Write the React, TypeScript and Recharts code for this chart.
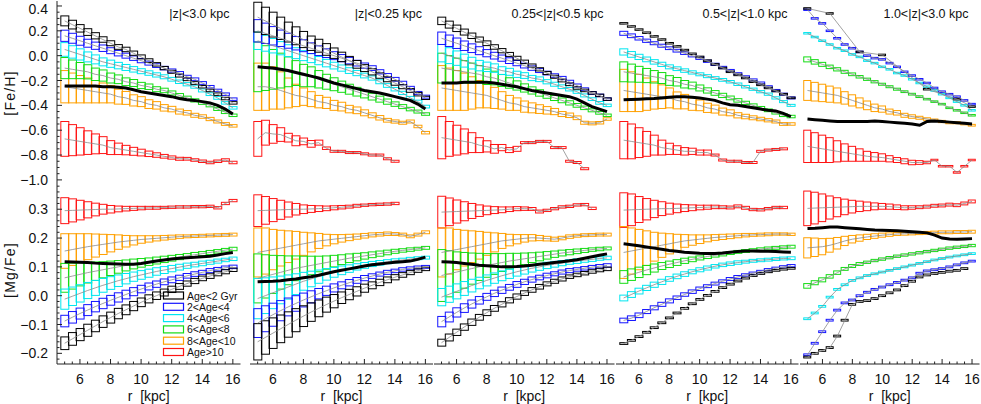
import React from 'react';
import { ComposedChart, Bar, Line, XAxis, YAxis } from 'recharts';

// radial bins, kpc
const R = [5, 5.5, 6, 6.5, 7, 7.5, 8, 8.5, 9, 9.5, 10, 10.5, 11, 11.5, 12, 12.5, 13, 13.5, 14, 14.5, 15, 15.5, 16];

const AGE_LABELS = ['Age<2 Gyr', '2<Age<4', '4<Age<6', '6<Age<8', '8<Age<10', 'Age>10'];
const AGE_COLORS = ['#000000', '#1414ff', '#00e6f0', '#14dc14', '#ffa000', '#ff1414'];
const Z_LABELS = ['|z|<3.0 kpc', '|z|<0.25 kpc', '0.25<|z|<0.5 kpc', '0.5<|z|<1.0 kpc', '1.0<|z|<3.0 kpc'];

const X_DOMAIN = [4.5, 16.5];
const X_MAJOR = [6, 8, 10, 12, 14, 16];
const FE_DOMAIN = [-1.025, 0.44];
const FE_MAJOR = [0.4, 0.2, 0, -0.2, -0.4, -0.6, -0.8, -1.0];
const MG_DOMAIN = [-0.237, 0.391];
const MG_MAJOR = [0.3, 0.2, 0.1, 0, -0.1, -0.2];

const frange = (a: number, b: number, s: number) => {
  const out: number[] = [];
  for (let v = a; v <= b + 1e-9; v += s) out.push(Math.round(v * 1000) / 1000);
  return out;
};
const X_MINOR = frange(5, 16, 0.5);
const FE_MINOR = frange(-1.0, 0.4, 0.05);
const MG_MINOR = frange(-0.22, 0.38, 0.02);

const ERR_FE_DASH = [0.006, 0.006, 0.006, 0.006, 0.006, 0.006, 0.006, 0.006, 0.006, 0.006, 0.006, 0.006, 0.006, 0.006, 0.006, 0.006, 0.006, 0.006, 0.006, 0.006, 0.006, 0.006, 0.006];
const ERR_MG_DASH = [0.003, 0.003, 0.003, 0.003, 0.003, 0.003, 0.003, 0.003, 0.003, 0.003, 0.003, 0.003, 0.003, 0.003, 0.003, 0.003, 0.003, 0.003, 0.003, 0.003, 0.003, 0.003, 0.003];

// ---- [Fe/H], |z|<3.0 ---- rows: black, blue, cyan, green, orange, red
const FE_A_MEAN = [
  [0.28, 0.25, 0.22, 0.19, 0.16, 0.13, 0.10, 0.07, 0.05, 0.02, -0.01, -0.04, -0.07, -0.10, -0.13, -0.16, -0.19, -0.22, -0.25, -0.28, -0.31, -0.345, -0.38],
  [0.16, 0.14, 0.12, 0.10, 0.08, 0.06, 0.04, 0.02, 0.00, -0.02, -0.04, -0.06, -0.08, -0.10, -0.12, -0.14, -0.17, -0.19, -0.22, -0.25, -0.28, -0.31, -0.35],
  [0.05, 0.03, 0.01, -0.01, -0.03, -0.05, -0.065, -0.08, -0.095, -0.11, -0.125, -0.14, -0.155, -0.17, -0.19, -0.21, -0.23, -0.25, -0.28, -0.31, -0.34, -0.38, -0.42],
  [-0.10, -0.11, -0.12, -0.13, -0.15, -0.16, -0.18, -0.19, -0.21, -0.22, -0.24, -0.25, -0.27, -0.28, -0.30, -0.32, -0.34, -0.36, -0.38, -0.40, -0.43, -0.455, -0.48],
  [-0.25, -0.26, -0.27, -0.28, -0.29, -0.30, -0.31, -0.33, -0.34, -0.36, -0.37, -0.39, -0.40, -0.42, -0.43, -0.45, -0.46, -0.48, -0.49, -0.51, -0.53, -0.55, -0.565],
  [-0.67, -0.68, -0.69, -0.70, -0.71, -0.72, -0.74, -0.75, -0.76, -0.77, -0.78, -0.79, -0.80, -0.81, -0.82, -0.83, -0.83, -0.84, -0.85, -0.86, -0.85, -0.84, -0.86],
];
const FE_A_ERR = [
  [0.04, 0.035, 0.03, 0.027, 0.025, 0.022, 0.02, 0.019, 0.018, 0.017, 0.016, 0.015, 0.014, 0.013, 0.012, 0.012, 0.011, 0.011, 0.01, 0.01, 0.01, 0.01, 0.01],
  [0.045, 0.04, 0.036, 0.032, 0.029, 0.026, 0.024, 0.022, 0.02, 0.018, 0.017, 0.016, 0.015, 0.014, 0.013, 0.012, 0.012, 0.011, 0.011, 0.01, 0.01, 0.01, 0.01],
  [0.055, 0.05, 0.045, 0.04, 0.036, 0.032, 0.029, 0.026, 0.024, 0.022, 0.02, 0.018, 0.017, 0.016, 0.015, 0.014, 0.013, 0.012, 0.012, 0.011, 0.011, 0.01, 0.01],
  [0.085, 0.075, 0.065, 0.057, 0.05, 0.045, 0.04, 0.035, 0.031, 0.028, 0.025, 0.022, 0.02, 0.018, 0.016, 0.015, 0.014, 0.013, 0.012, 0.012, 0.011, 0.011, 0.01],
  [0.13, 0.12, 0.11, 0.10, 0.09, 0.08, 0.07, 0.06, 0.052, 0.045, 0.04, 0.035, 0.03, 0.026, 0.022, 0.02, 0.018, 0.016, 0.014, 0.013, 0.012, 0.011, 0.01],
  [0.14, 0.125, 0.11, 0.095, 0.08, 0.068, 0.056, 0.046, 0.038, 0.032, 0.027, 0.022, 0.018, 0.015, 0.013, 0.012, 0.011, 0.01, 0.01, 0.01, 0.01, 0.01, 0.01],
];
const FE_A_ALL = [-0.245, -0.245, -0.245, -0.245, -0.245, -0.25, -0.25, -0.255, -0.26, -0.275, -0.29, -0.30, -0.31, -0.32, -0.33, -0.345, -0.355, -0.36, -0.37, -0.38, -0.40, -0.43, -0.47];

// ---- [Fe/H], |z|<0.25 ----
const FE_B_MEAN = [
  [0.31, 0.28, 0.25, 0.22, 0.19, 0.16, 0.13, 0.10, 0.08, 0.05, 0.02, -0.01, -0.04, -0.07, -0.10, -0.13, -0.16, -0.19, -0.22, -0.25, -0.28, -0.31, -0.34],
  [0.20, 0.18, 0.16, 0.14, 0.12, 0.10, 0.08, 0.06, 0.04, 0.02, 0.00, -0.02, -0.04, -0.06, -0.08, -0.10, -0.13, -0.16, -0.19, -0.22, -0.26, -0.30, -0.33],
  [0.12, 0.10, 0.08, 0.06, 0.04, 0.02, 0.00, -0.02, -0.04, -0.06, -0.08, -0.10, -0.12, -0.14, -0.16, -0.18, -0.21, -0.24, -0.27, -0.30, -0.34, -0.37, -0.41],
  [-0.09, -0.10, -0.11, -0.12, -0.13, -0.14, -0.16, -0.17, -0.19, -0.21, -0.23, -0.25, -0.27, -0.29, -0.31, -0.33, -0.35, -0.37, -0.39, -0.41, -0.43, -0.45, -0.47],
  [-0.25, -0.25, -0.26, -0.28, -0.30, -0.32, -0.33, -0.35, -0.37, -0.38, -0.40, -0.41, -0.43, -0.44, -0.46, -0.48, -0.50, -0.52, -0.53, -0.54, -0.53, -0.57, -0.62],
  [-0.67, -0.62, -0.63, -0.635, -0.66, -0.685, -0.69, -0.71, -0.70, -0.745, -0.77, -0.77, -0.78, -0.78, -0.79, -0.80, -0.80, -0.83, -0.85, null, null, null, null],
];
const FE_B_ERR = [
  [0.12, 0.11, 0.10, 0.09, 0.08, 0.072, 0.065, 0.058, 0.052, 0.047, 0.042, 0.038, 0.034, 0.031, 0.028, 0.025, 0.022, 0.02, 0.018, 0.016, 0.015, 0.014, 0.013],
  [0.09, 0.082, 0.074, 0.066, 0.06, 0.054, 0.048, 0.043, 0.039, 0.035, 0.032, 0.029, 0.026, 0.023, 0.021, 0.019, 0.017, 0.016, 0.015, 0.014, 0.013, 0.012, 0.012],
  [0.07, 0.064, 0.058, 0.053, 0.048, 0.044, 0.04, 0.036, 0.033, 0.03, 0.027, 0.025, 0.023, 0.021, 0.019, 0.017, 0.016, 0.015, 0.014, 0.013, 0.012, 0.012, 0.011],
  [0.2, 0.18, 0.16, 0.14, 0.12, 0.10, 0.09, 0.08, 0.07, 0.06, 0.052, 0.045, 0.04, 0.035, 0.03, 0.027, 0.024, 0.021, 0.018, 0.016, 0.014, 0.012, 0.01],
  [0.19, 0.19, 0.17, 0.15, 0.12, 0.09, 0.07, 0.06, 0.05, 0.045, 0.04, 0.035, 0.03, 0.027, 0.024, 0.02, 0.018, 0.015, 0.013, 0.012, 0.012, 0.01, 0.01],
  [0.14, 0.10, 0.075, 0.055, 0.035, 0.04, 0.027, 0.027, 0.02, 0.01, 0.008, 0.008, 0.008, 0.008, 0.008, 0.008, 0.008, 0.008, 0.008, 0.008, 0.008, 0.008, 0.008],
];
const FE_B_ALL = [-0.09, -0.095, -0.10, -0.11, -0.12, -0.135, -0.15, -0.165, -0.18, -0.20, -0.22, -0.235, -0.25, -0.265, -0.28, -0.29, -0.30, -0.315, -0.33, -0.345, -0.36, -0.39, -0.43];

// ---- [Fe/H], 0.25<|z|<0.5 ----
const FE_C_MEAN = [
  [0.28, 0.25, 0.22, 0.19, 0.16, 0.13, 0.10, 0.07, 0.04, 0.01, -0.02, -0.05, -0.08, -0.11, -0.14, -0.17, -0.20, -0.23, -0.26, -0.28, -0.30, -0.32, -0.35],
  [0.14, 0.12, 0.10, 0.08, 0.06, 0.04, 0.02, 0.00, -0.02, -0.04, -0.06, -0.08, -0.10, -0.12, -0.14, -0.16, -0.18, -0.21, -0.24, -0.27, -0.30, -0.32, -0.35],
  [0.02, 0.00, -0.02, -0.04, -0.06, -0.08, -0.09, -0.10, -0.12, -0.13, -0.15, -0.16, -0.18, -0.19, -0.21, -0.23, -0.25, -0.27, -0.29, -0.32, -0.35, -0.38, -0.40],
  [-0.10, -0.11, -0.12, -0.13, -0.14, -0.15, -0.17, -0.18, -0.20, -0.22, -0.24, -0.26, -0.28, -0.30, -0.32, -0.34, -0.36, -0.38, -0.40, -0.42, -0.44, -0.46, -0.48],
  [-0.26, -0.27, -0.28, -0.29, -0.30, -0.31, -0.32, -0.34, -0.36, -0.38, -0.39, -0.41, -0.42, -0.43, -0.44, -0.45, -0.47, -0.48, -0.50, -0.54, -0.545, -0.54, -0.51],
  [-0.66, -0.67, -0.68, -0.69, -0.70, -0.72, -0.73, -0.75, -0.74, -0.76, -0.75, -0.70, -0.70, -0.69, -0.69, -0.74, -0.74, -0.85, -0.86, -0.91, null, null, null],
];
const FE_C_ERR = [
  [0.03, 0.028, 0.026, 0.024, 0.022, 0.02, 0.019, 0.018, 0.017, 0.016, 0.015, 0.014, 0.013, 0.013, 0.012, 0.012, 0.011, 0.011, 0.01, 0.01, 0.01, 0.01, 0.01],
  [0.05, 0.046, 0.042, 0.038, 0.035, 0.032, 0.029, 0.027, 0.025, 0.023, 0.021, 0.019, 0.018, 0.016, 0.015, 0.014, 0.013, 0.012, 0.012, 0.011, 0.011, 0.01, 0.01],
  [0.07, 0.064, 0.058, 0.052, 0.047, 0.042, 0.038, 0.034, 0.031, 0.028, 0.025, 0.023, 0.021, 0.019, 0.017, 0.016, 0.015, 0.014, 0.013, 0.012, 0.011, 0.011, 0.01],
  [0.12, 0.11, 0.10, 0.09, 0.08, 0.07, 0.062, 0.055, 0.048, 0.042, 0.037, 0.033, 0.029, 0.026, 0.023, 0.021, 0.019, 0.017, 0.015, 0.014, 0.012, 0.011, 0.01],
  [0.18, 0.17, 0.16, 0.15, 0.13, 0.11, 0.10, 0.085, 0.07, 0.06, 0.05, 0.045, 0.04, 0.035, 0.03, 0.025, 0.02, 0.018, 0.015, 0.012, 0.012, 0.01, 0.01],
  [0.17, 0.14, 0.12, 0.10, 0.08, 0.06, 0.045, 0.035, 0.025, 0.02, 0.02, 0.008, 0.008, 0.008, 0.008, 0.008, 0.008, 0.008, 0.008, 0.008, 0.008, 0.008, 0.008],
];
const FE_C_ALL = [-0.22, -0.22, -0.22, -0.215, -0.215, -0.215, -0.215, -0.22, -0.23, -0.24, -0.25, -0.265, -0.28, -0.29, -0.30, -0.31, -0.32, -0.33, -0.35, -0.38, -0.41, -0.43, -0.45];

// ---- [Fe/H], 0.5<|z|<1.0 ----
const FE_D_MEAN = [
  [0.26, 0.235, 0.21, 0.185, 0.155, 0.13, 0.10, 0.075, 0.045, 0.015, -0.01, -0.04, -0.07, -0.10, -0.13, -0.155, -0.18, -0.21, -0.235, -0.26, -0.285, -0.31, -0.34],
  [0.18, 0.16, 0.14, 0.12, 0.10, 0.08, 0.06, 0.04, 0.02, 0.00, -0.02, -0.045, -0.07, -0.095, -0.12, -0.145, -0.17, -0.195, -0.22, -0.25, -0.28, -0.31, -0.34],
  [0.03, 0.01, -0.01, -0.03, -0.05, -0.07, -0.09, -0.105, -0.12, -0.135, -0.15, -0.165, -0.18, -0.195, -0.21, -0.23, -0.25, -0.27, -0.29, -0.31, -0.34, -0.37, -0.40],
  [-0.13, -0.14, -0.15, -0.16, -0.17, -0.18, -0.20, -0.21, -0.23, -0.24, -0.26, -0.28, -0.30, -0.32, -0.34, -0.36, -0.38, -0.40, -0.42, -0.44, -0.46, -0.48, -0.49],
  [-0.28, -0.29, -0.30, -0.31, -0.32, -0.33, -0.34, -0.36, -0.37, -0.39, -0.40, -0.42, -0.43, -0.45, -0.46, -0.48, -0.49, -0.50, -0.51, -0.52, -0.53, -0.55, -0.55],
  [-0.68, -0.69, -0.70, -0.71, -0.72, -0.74, -0.75, -0.76, -0.77, -0.77, -0.78, -0.78, -0.80, -0.84, -0.85, -0.85, -0.86, -0.86, -0.77, -0.76, -0.755, -0.75, null],
];
const FE_D_ERR = [
  ERR_FE_DASH,
  [0.016, 0.015, 0.014, 0.013, 0.012, 0.012, 0.011, 0.011, 0.01, 0.01, 0.01, 0.009, 0.009, 0.009, 0.009, 0.008, 0.008, 0.008, 0.008, 0.008, 0.008, 0.008, 0.008],
  [0.025, 0.023, 0.021, 0.019, 0.018, 0.017, 0.016, 0.015, 0.014, 0.013, 0.012, 0.012, 0.011, 0.011, 0.01, 0.01, 0.01, 0.009, 0.009, 0.009, 0.009, 0.008, 0.008],
  [0.08, 0.072, 0.064, 0.057, 0.05, 0.044, 0.039, 0.034, 0.03, 0.027, 0.024, 0.021, 0.019, 0.017, 0.015, 0.014, 0.013, 0.012, 0.011, 0.011, 0.01, 0.01, 0.01],
  [0.17, 0.16, 0.15, 0.13, 0.11, 0.095, 0.08, 0.068, 0.058, 0.05, 0.043, 0.037, 0.032, 0.028, 0.024, 0.021, 0.018, 0.016, 0.014, 0.013, 0.012, 0.011, 0.01],
  [0.15, 0.14, 0.12, 0.10, 0.08, 0.06, 0.045, 0.035, 0.03, 0.025, 0.02, 0.02, 0.008, 0.008, 0.008, 0.008, 0.008, 0.008, 0.008, 0.008, 0.008, 0.008, 0.008],
];
const FE_D_ALL = [-0.355, -0.352, -0.35, -0.347, -0.345, -0.34, -0.335, -0.33, -0.33, -0.335, -0.34, -0.35, -0.36, -0.38, -0.395, -0.40, -0.41, -0.42, -0.43, -0.44, -0.445, -0.465, -0.49];

// ---- [Fe/H], 1.0<|z|<3.0 ----
const FE_E_MEAN = [
  [0.38, null, null, 0.34, null, null, null, 0.03, null, null, 0.006, null, null, null, null, null, -0.27, null, null, null, -0.35, null, -0.41],
  [0.37, 0.30, 0.26, 0.20, 0.14, 0.09, 0.06, 0.03, 0.00, -0.02, -0.03, -0.06, -0.09, -0.13, -0.16, -0.19, -0.22, -0.26, -0.29, -0.31, -0.33, -0.36, -0.39],
  [0.18, 0.15, 0.12, 0.09, 0.06, 0.04, 0.01, -0.01, -0.04, -0.06, -0.09, -0.11, -0.14, -0.16, -0.19, -0.22, -0.25, -0.28, -0.31, -0.34, -0.37, -0.40, -0.44],
  [-0.03, -0.05, -0.07, -0.09, -0.11, -0.13, -0.15, -0.17, -0.19, -0.21, -0.23, -0.25, -0.27, -0.29, -0.31, -0.33, -0.35, -0.37, -0.39, -0.42, -0.44, -0.46, -0.48],
  [-0.28, -0.29, -0.30, -0.31, -0.32, -0.34, -0.36, -0.38, -0.40, -0.42, -0.43, -0.45, -0.46, -0.48, -0.49, -0.50, -0.51, -0.52, -0.53, -0.54, -0.54, -0.55, -0.56],
  [-0.73, -0.74, -0.75, -0.76, -0.77, -0.78, -0.79, -0.80, -0.81, -0.815, -0.82, -0.83, -0.84, -0.85, -0.86, -0.86, -0.86, -0.84, -0.89, -0.89, -0.94, -0.89, -0.84],
];
const FE_E_ERR = [
  ERR_FE_DASH,
  ERR_FE_DASH,
  ERR_FE_DASH,
  [0.02, 0.018, 0.016, 0.014, 0.013, 0.012, 0.011, 0.01, 0.009, 0.009, 0.008, 0.008, 0.008, 0.007, 0.007, 0.007, 0.006, 0.006, 0.006, 0.006, 0.006, 0.006, 0.006],
  [0.08, 0.075, 0.07, 0.065, 0.06, 0.05, 0.045, 0.04, 0.035, 0.03, 0.025, 0.02, 0.018, 0.016, 0.014, 0.012, 0.01, 0.01, 0.009, 0.008, 0.008, 0.007, 0.007],
  [0.13, 0.12, 0.11, 0.10, 0.085, 0.07, 0.06, 0.05, 0.04, 0.035, 0.03, 0.025, 0.02, 0.02, 0.018, 0.015, 0.01, 0.006, 0.006, 0.006, 0.006, 0.006, 0.006],
];
const FE_E_ALL = [-0.51, -0.515, -0.52, -0.525, -0.53, -0.53, -0.53, -0.53, -0.53, -0.525, -0.53, -0.535, -0.54, -0.545, -0.55, -0.56, -0.53, -0.525, -0.53, -0.535, -0.54, -0.545, -0.55];

// ---- [Mg/Fe], |z|<3.0 ----
const MG_A_MEAN = [
  [-0.165, -0.15, -0.135, -0.12, -0.105, -0.09, -0.076, -0.062, -0.049, -0.036, -0.023, -0.011, 0.0, 0.011, 0.022, 0.032, 0.042, 0.051, 0.06, 0.068, 0.076, 0.083, 0.09],
  [-0.088, -0.075, -0.062, -0.05, -0.038, -0.027, -0.016, -0.006, 0.004, 0.014, 0.023, 0.032, 0.04, 0.048, 0.055, 0.062, 0.069, 0.075, 0.081, 0.087, 0.092, 0.097, 0.10],
  [-0.012, -0.002, 0.008, 0.018, 0.027, 0.036, 0.044, 0.052, 0.059, 0.066, 0.072, 0.078, 0.084, 0.089, 0.094, 0.099, 0.104, 0.108, 0.112, 0.116, 0.12, 0.124, 0.128],
  [0.062, 0.068, 0.074, 0.08, 0.085, 0.09, 0.095, 0.10, 0.105, 0.11, 0.114, 0.118, 0.122, 0.126, 0.13, 0.134, 0.138, 0.142, 0.146, 0.15, 0.154, 0.158, 0.162],
  [0.155, 0.16, 0.165, 0.17, 0.174, 0.178, 0.182, 0.186, 0.189, 0.192, 0.195, 0.197, 0.199, 0.201, 0.203, 0.205, 0.206, 0.207, 0.208, 0.209, 0.21, 0.211, 0.212],
  [0.295, 0.296, 0.297, 0.298, 0.299, 0.30, 0.30, 0.301, 0.302, 0.303, 0.304, 0.305, 0.305, 0.306, 0.307, 0.308, 0.308, 0.309, 0.309, 0.31, 0.305, 0.32, 0.33],
];
const MG_A_ERR = [
  [0.022, 0.022, 0.021, 0.021, 0.02, 0.02, 0.019, 0.018, 0.017, 0.016, 0.015, 0.014, 0.013, 0.012, 0.011, 0.01, 0.009, 0.009, 0.008, 0.008, 0.007, 0.007, 0.006],
  [0.02, 0.02, 0.019, 0.019, 0.018, 0.018, 0.017, 0.016, 0.015, 0.014, 0.013, 0.012, 0.011, 0.01, 0.01, 0.009, 0.008, 0.008, 0.007, 0.007, 0.006, 0.006, 0.006],
  [0.035, 0.032, 0.03, 0.028, 0.026, 0.024, 0.022, 0.02, 0.018, 0.016, 0.015, 0.014, 0.013, 0.012, 0.011, 0.01, 0.009, 0.008, 0.008, 0.007, 0.007, 0.006, 0.006],
  [0.05, 0.045, 0.04, 0.036, 0.032, 0.028, 0.025, 0.022, 0.019, 0.017, 0.015, 0.013, 0.012, 0.011, 0.01, 0.009, 0.008, 0.008, 0.007, 0.007, 0.006, 0.006, 0.006],
  [0.06, 0.055, 0.05, 0.045, 0.04, 0.035, 0.03, 0.025, 0.02, 0.016, 0.013, 0.011, 0.009, 0.008, 0.007, 0.006, 0.005, 0.005, 0.005, 0.005, 0.005, 0.005, 0.005],
  [0.045, 0.04, 0.034, 0.028, 0.022, 0.017, 0.013, 0.01, 0.008, 0.007, 0.006, 0.005, 0.005, 0.004, 0.004, 0.004, 0.004, 0.004, 0.004, 0.004, 0.004, 0.004, 0.004],
];
const MG_A_ALL = [0.118, 0.117, 0.116, 0.115, 0.113, 0.112, 0.111, 0.11, 0.109, 0.109, 0.112, 0.116, 0.12, 0.124, 0.127, 0.13, 0.132, 0.133, 0.135, 0.137, 0.141, 0.146, 0.15];

// ---- [Mg/Fe], |z|<0.25 ----
const MG_B_MEAN = [
  [-0.16, -0.145, -0.13, -0.115, -0.10, -0.085, -0.071, -0.057, -0.044, -0.031, -0.019, -0.007, 0.004, 0.015, 0.026, 0.036, 0.046, 0.055, 0.064, 0.072, 0.08, 0.087, 0.093],
  [-0.095, -0.08, -0.066, -0.052, -0.039, -0.027, -0.015, -0.004, 0.007, 0.017, 0.027, 0.036, 0.045, 0.053, 0.061, 0.068, 0.075, 0.081, 0.086, 0.091, 0.095, 0.098, 0.10],
  [-0.01, 0.0, 0.01, 0.02, 0.03, 0.04, 0.05, 0.058, 0.066, 0.074, 0.081, 0.088, 0.094, 0.10, 0.105, 0.11, 0.114, 0.118, 0.121, 0.124, 0.127, 0.13, 0.132],
  [0.06, 0.067, 0.074, 0.081, 0.088, 0.095, 0.10, 0.105, 0.11, 0.115, 0.12, 0.125, 0.13, 0.134, 0.138, 0.142, 0.146, 0.15, 0.154, 0.157, 0.16, 0.163, 0.166],
  [0.15, 0.155, 0.16, 0.165, 0.17, 0.175, 0.18, 0.185, 0.19, 0.193, 0.196, 0.199, 0.202, 0.205, 0.208, 0.211, 0.213, 0.215, 0.214, 0.212, 0.206, 0.212, 0.22],
  [0.295, 0.296, 0.297, 0.298, 0.299, 0.30, 0.30, 0.301, 0.302, 0.303, 0.305, 0.307, 0.309, 0.312, 0.314, 0.316, 0.317, 0.318, 0.32, null, null, null, null],
];
const MG_B_ERR = [
  [0.063, 0.058, 0.053, 0.048, 0.044, 0.04, 0.036, 0.032, 0.029, 0.026, 0.023, 0.02, 0.018, 0.016, 0.014, 0.012, 0.011, 0.01, 0.009, 0.008, 0.007, 0.006, 0.006],
  [0.05, 0.045, 0.04, 0.035, 0.031, 0.027, 0.024, 0.021, 0.018, 0.016, 0.014, 0.012, 0.011, 0.01, 0.009, 0.008, 0.007, 0.007, 0.006, 0.006, 0.005, 0.005, 0.005],
  [0.07, 0.062, 0.055, 0.048, 0.042, 0.036, 0.031, 0.027, 0.023, 0.02, 0.017, 0.015, 0.013, 0.011, 0.01, 0.009, 0.008, 0.007, 0.007, 0.006, 0.006, 0.005, 0.005],
  [0.085, 0.075, 0.066, 0.058, 0.05, 0.043, 0.037, 0.032, 0.027, 0.023, 0.02, 0.017, 0.015, 0.013, 0.011, 0.01, 0.009, 0.008, 0.007, 0.006, 0.006, 0.005, 0.005],
  [0.085, 0.08, 0.07, 0.062, 0.055, 0.048, 0.04, 0.033, 0.026, 0.02, 0.016, 0.013, 0.011, 0.009, 0.008, 0.007, 0.006, 0.006, 0.005, 0.005, 0.005, 0.005, 0.005],
  [0.055, 0.048, 0.04, 0.033, 0.026, 0.02, 0.015, 0.012, 0.01, 0.008, 0.007, 0.006, 0.005, 0.005, 0.004, 0.004, 0.004, 0.004, 0.004, 0.004, 0.004, 0.004, 0.004],
];
const MG_B_ALL = [0.048, 0.049, 0.05, 0.052, 0.055, 0.058, 0.062, 0.066, 0.071, 0.077, 0.083, 0.088, 0.093, 0.098, 0.103, 0.107, 0.11, 0.113, 0.116, 0.118, 0.12, 0.126, 0.134];

// ---- [Mg/Fe], 0.25<|z|<0.5 ----
const MG_C_MEAN = [
  [-0.163, -0.145, -0.127, -0.109, -0.092, -0.075, -0.059, -0.044, -0.03, -0.016, -0.003, 0.009, 0.02, 0.031, 0.041, 0.05, 0.058, 0.066, 0.072, 0.078, 0.084, 0.089, 0.093],
  [-0.09, -0.074, -0.058, -0.043, -0.029, -0.016, -0.004, 0.008, 0.019, 0.029, 0.039, 0.048, 0.056, 0.063, 0.07, 0.076, 0.082, 0.087, 0.091, 0.095, 0.099, 0.102, 0.105],
  [-0.005, 0.005, 0.015, 0.025, 0.035, 0.044, 0.053, 0.061, 0.069, 0.076, 0.083, 0.089, 0.095, 0.10, 0.105, 0.109, 0.113, 0.117, 0.12, 0.123, 0.126, 0.129, 0.131],
  [0.07, 0.076, 0.082, 0.088, 0.094, 0.10, 0.105, 0.11, 0.115, 0.12, 0.124, 0.128, 0.132, 0.136, 0.14, 0.144, 0.148, 0.151, 0.154, 0.157, 0.16, 0.162, 0.164],
  [0.15, 0.155, 0.16, 0.165, 0.17, 0.175, 0.18, 0.185, 0.19, 0.193, 0.196, 0.199, 0.201, 0.20, 0.198, 0.196, 0.20, 0.205, 0.208, 0.21, 0.211, 0.212, 0.212],
  [0.29, 0.291, 0.292, 0.293, 0.294, 0.295, 0.296, 0.297, 0.298, 0.30, 0.302, 0.302, 0.301, 0.292, 0.296, 0.302, 0.308, 0.31, 0.315, 0.316, 0.303, null, null],
];
const MG_C_ERR = [
  [0.012, 0.012, 0.011, 0.011, 0.011, 0.01, 0.01, 0.01, 0.009, 0.009, 0.009, 0.008, 0.008, 0.008, 0.007, 0.007, 0.007, 0.006, 0.006, 0.006, 0.006, 0.006, 0.006],
  [0.018, 0.017, 0.016, 0.015, 0.014, 0.013, 0.012, 0.011, 0.011, 0.01, 0.01, 0.009, 0.009, 0.008, 0.008, 0.007, 0.007, 0.007, 0.006, 0.006, 0.006, 0.006, 0.006],
  [0.03, 0.028, 0.026, 0.024, 0.022, 0.02, 0.019, 0.018, 0.017, 0.016, 0.015, 0.014, 0.013, 0.012, 0.011, 0.01, 0.009, 0.008, 0.008, 0.007, 0.007, 0.006, 0.006],
  [0.09, 0.08, 0.07, 0.062, 0.054, 0.047, 0.041, 0.036, 0.031, 0.027, 0.023, 0.02, 0.017, 0.015, 0.013, 0.011, 0.01, 0.009, 0.008, 0.007, 0.006, 0.006, 0.005],
  [0.085, 0.08, 0.07, 0.062, 0.055, 0.048, 0.04, 0.033, 0.026, 0.02, 0.016, 0.013, 0.011, 0.009, 0.008, 0.007, 0.006, 0.006, 0.005, 0.005, 0.005, 0.005, 0.005],
  [0.055, 0.048, 0.04, 0.033, 0.026, 0.02, 0.015, 0.012, 0.01, 0.008, 0.007, 0.006, 0.005, 0.005, 0.004, 0.004, 0.004, 0.004, 0.004, 0.004, 0.004, 0.004, 0.004],
];
const MG_C_ALL = [0.118, 0.117, 0.115, 0.112, 0.109, 0.106, 0.104, 0.102, 0.10, 0.10, 0.101, 0.103, 0.106, 0.109, 0.112, 0.115, 0.118, 0.121, 0.125, 0.13, 0.135, 0.14, 0.145];

// ---- [Mg/Fe], 0.5<|z|<1.0 ----
const MG_D_MEAN = [
  [-0.166, -0.155, -0.142, -0.127, -0.111, -0.094, -0.077, -0.06, -0.044, -0.028, -0.013, 0.001, 0.015, 0.028, 0.04, 0.051, 0.061, 0.07, 0.077, 0.083, 0.088, 0.092, 0.095],
  [-0.086, -0.078, -0.068, -0.055, -0.042, -0.03, -0.018, -0.007, 0.004, 0.014, 0.024, 0.033, 0.042, 0.05, 0.058, 0.065, 0.072, 0.078, 0.084, 0.09, 0.095, 0.10, 0.104],
  [-0.008, 0.004, 0.016, 0.027, 0.038, 0.048, 0.058, 0.067, 0.075, 0.083, 0.09, 0.096, 0.102, 0.107, 0.111, 0.115, 0.118, 0.121, 0.123, 0.125, 0.127, 0.129, 0.13],
  [0.065, 0.073, 0.081, 0.089, 0.096, 0.103, 0.109, 0.115, 0.121, 0.126, 0.131, 0.136, 0.14, 0.144, 0.148, 0.152, 0.155, 0.158, 0.161, 0.164, 0.166, 0.168, 0.17],
  [0.15, 0.155, 0.16, 0.165, 0.17, 0.175, 0.18, 0.185, 0.19, 0.193, 0.196, 0.199, 0.202, 0.204, 0.206, 0.208, 0.21, 0.211, 0.212, 0.213, 0.214, 0.214, 0.213],
  [0.297, 0.298, 0.299, 0.30, 0.301, 0.302, 0.302, 0.303, 0.304, 0.305, 0.306, 0.307, 0.308, 0.307, 0.306, 0.31, 0.305, 0.299, 0.298, 0.302, 0.306, 0.306, null],
];
const MG_D_ERR = [
  ERR_MG_DASH,
  [0.008, 0.008, 0.008, 0.007, 0.007, 0.007, 0.007, 0.006, 0.006, 0.006, 0.006, 0.005, 0.005, 0.005, 0.005, 0.005, 0.004, 0.004, 0.004, 0.004, 0.004, 0.004, 0.004],
  [0.01, 0.01, 0.01, 0.009, 0.009, 0.009, 0.008, 0.008, 0.008, 0.007, 0.007, 0.007, 0.006, 0.006, 0.006, 0.006, 0.005, 0.005, 0.005, 0.005, 0.005, 0.005, 0.005],
  [0.022, 0.02, 0.018, 0.016, 0.014, 0.012, 0.011, 0.01, 0.009, 0.008, 0.007, 0.007, 0.006, 0.006, 0.005, 0.005, 0.005, 0.005, 0.005, 0.005, 0.005, 0.005, 0.005],
  [0.09, 0.08, 0.07, 0.06, 0.05, 0.042, 0.035, 0.028, 0.022, 0.018, 0.015, 0.012, 0.01, 0.009, 0.008, 0.007, 0.006, 0.005, 0.005, 0.005, 0.004, 0.004, 0.004],
  [0.06, 0.055, 0.045, 0.037, 0.03, 0.024, 0.019, 0.015, 0.012, 0.01, 0.008, 0.007, 0.006, 0.005, 0.005, 0.005, 0.005, 0.004, 0.004, 0.004, 0.004, 0.004, 0.004],
];
const MG_D_ALL = [0.18, 0.177, 0.173, 0.169, 0.165, 0.161, 0.157, 0.154, 0.151, 0.149, 0.147, 0.146, 0.146, 0.148, 0.151, 0.153, 0.155, 0.155, 0.154, 0.154, 0.153, 0.152, 0.151];

// ---- [Mg/Fe], 1.0<|z|<3.0 ----
const MG_E_MEAN = [
  [-0.213, -0.20, -0.19, -0.18, -0.14, -0.085, -0.03, -0.02, -0.017, -0.01, 0.0, 0.01, 0.02, 0.035, 0.05, 0.065, 0.072, 0.077, 0.081, 0.085, 0.088, 0.094, null],
  [-0.205, -0.165, -0.125, -0.085, -0.05, -0.025, -0.015, 0.0, 0.012, 0.022, 0.03, 0.038, 0.046, 0.054, 0.062, 0.078, 0.086, 0.09, 0.094, 0.10, 0.107, 0.114, 0.12],
  [-0.08, -0.06, -0.037, -0.005, 0.022, 0.038, 0.053, 0.062, 0.07, 0.076, 0.082, 0.088, 0.094, 0.10, 0.106, 0.112, 0.118, 0.124, 0.129, 0.134, 0.138, 0.142, 0.146],
  [0.034, 0.045, 0.055, 0.067, 0.08, 0.093, 0.103, 0.11, 0.116, 0.122, 0.127, 0.132, 0.137, 0.141, 0.145, 0.149, 0.153, 0.157, 0.161, 0.165, 0.168, 0.171, 0.174],
  [0.166, 0.168, 0.17, 0.175, 0.182, 0.19, 0.196, 0.20, 0.204, 0.207, 0.21, 0.212, 0.214, 0.215, 0.216, 0.217, 0.218, 0.219, 0.22, 0.22, 0.221, 0.221, 0.222],
  [0.303, 0.304, 0.305, 0.306, 0.307, 0.308, 0.309, 0.31, 0.31, 0.31, 0.31, 0.309, 0.307, 0.305, 0.306, 0.307, 0.309, 0.312, 0.313, 0.316, 0.314, 0.32, 0.327],
];
const MG_E_ERR = [
  ERR_MG_DASH,
  ERR_MG_DASH,
  ERR_MG_DASH,
  [0.008, 0.007, 0.007, 0.006, 0.006, 0.005, 0.005, 0.005, 0.004, 0.004, 0.004, 0.004, 0.004, 0.004, 0.004, 0.004, 0.004, 0.004, 0.004, 0.004, 0.004, 0.004, 0.004],
  [0.035, 0.032, 0.028, 0.024, 0.02, 0.016, 0.013, 0.011, 0.009, 0.008, 0.007, 0.006, 0.005, 0.005, 0.005, 0.005, 0.005, 0.005, 0.005, 0.005, 0.005, 0.005, 0.005],
  [0.06, 0.055, 0.048, 0.04, 0.033, 0.027, 0.022, 0.018, 0.015, 0.012, 0.01, 0.009, 0.008, 0.007, 0.006, 0.005, 0.005, 0.005, 0.005, 0.005, 0.005, 0.005, 0.005],
];
const MG_E_ALL = [0.233, 0.234, 0.236, 0.238, 0.238, 0.236, 0.234, 0.232, 0.23, 0.228, 0.227, 0.226, 0.225, 0.224, 0.222, 0.22, 0.218, 0.21, 0.20, 0.197, 0.196, 0.197, 0.198];

// layout (px)
const PLOT_LEFT = [57, 250, 434, 616, 800];
const PLOT_W = [183.5, 183, 180.5, 182.5, 179.5];
const ROW_TOP = [1, 183];
const ROW_H = [182, 181];
const Y_LABEL_W = 57;
const M = 2;
const FONT = "'Liberation Sans', Arial, Helvetica, sans-serif";
const AXIS_COLOR = '#222';
const TICK_FS = 14;

type Num = number | null;

const buildRows = (means: Num[][], errs: number[][], all: number[]) =>
  R.map((r, i) => {
    const row: Record<string, any> = { r, all: all[i] };
    means.forEach((m, k) => {
      const v = m[i];
      const e = errs[k][i] ?? 0;
      row[`m${k}`] = v == null ? null : v;
      row[`b${k}`] = v == null ? null : [v - e, v + e];
    });
    return row;
  });

const TOP_ROWS = [
  buildRows(FE_A_MEAN, FE_A_ERR, FE_A_ALL),
  buildRows(FE_B_MEAN, FE_B_ERR, FE_B_ALL),
  buildRows(FE_C_MEAN, FE_C_ERR, FE_C_ALL),
  buildRows(FE_D_MEAN, FE_D_ERR, FE_D_ALL),
  buildRows(FE_E_MEAN, FE_E_ERR, FE_E_ALL),
];
const BOTTOM_ROWS = [
  buildRows(MG_A_MEAN, MG_A_ERR, MG_A_ALL),
  buildRows(MG_B_MEAN, MG_B_ERR, MG_B_ALL),
  buildRows(MG_C_MEAN, MG_C_ERR, MG_C_ALL),
  buildRows(MG_D_MEAN, MG_D_ERR, MG_D_ALL),
  buildRows(MG_E_MEAN, MG_E_ERR, MG_E_ALL),
];

const isMajor = (v: number, major: number[]) => major.some(m => Math.abs(m - v) < 1e-6);
const fmtY = (v: number) => (v < -1e-9 ? '\u2212' : '') + Math.abs(v).toFixed(1);
const fmtX = (v: number) => String(v);

type Side = 'left' | 'right' | 'top' | 'bottom';

// inward IDL-style ticks, label only on major ticks
const tickRenderer = (side: Side, major: number[], label: ((v: number) => string) | null) => (props: any) => {
  const { x, y, payload } = props;
  const v = payload.value as number;
  const big = isMajor(v, major);
  const len = big ? 5 : 2.5;
  let l = { x1: x, y1: y, x2: x, y2: y };
  if (side === 'left') l = { x1: x, y1: y, x2: x + len, y2: y };
  if (side === 'right') l = { x1: x, y1: y, x2: x - len, y2: y };
  if (side === 'top') l = { x1: x, y1: y, x2: x, y2: y + len };
  if (side === 'bottom') l = { x1: x, y1: y, x2: x, y2: y - len };
  // keep the topmost label inside the page
  const leftBase = Math.max(y + 0.36 * TICK_FS, 0.95 * TICK_FS + 2);
  return (
    <g>
      <line {...l} stroke={AXIS_COLOR} strokeWidth={1} />
      {big && label && side === 'left' && (
        <text x={x - 9} y={leftBase} textAnchor="end" fontSize={TICK_FS} fontFamily={FONT} fill="#111">{label(v)}</text>
      )}
      {big && label && side === 'bottom' && (
        <text x={x} y={y + 20} textAnchor="middle" fontSize={TICK_FS} fontFamily={FONT} fill="#111">{label(v)}</text>
      )}
    </g>
  );
};

const boxShape = (key: string, color: string) => (p: any) => {
  const { x, y, width, height, payload } = p;
  if (!payload || payload[key] == null || !Number.isFinite(y) || !Number.isFinite(height)) return <g />;
  const top = Math.min(y, y + height);
  return <rect x={x} y={top} width={width} height={Math.abs(height)} fill="none" stroke={color} strokeWidth={1} />;
};

const SERIES_ORDER = [5, 4, 3, 2, 1, 0];

const Panel: React.FC<{ row: number; col: number }> = ({ row, col }) => {
  const data = row === 0 ? TOP_ROWS[col] : BOTTOM_ROWS[col];
  const yDomain = row === 0 ? FE_DOMAIN : MG_DOMAIN;
  const yMajor = row === 0 ? FE_MAJOR : MG_MAJOR;
  const yMinor = row === 0 ? FE_MINOR : MG_MINOR;
  const yw = col === 0 ? Y_LABEL_W : 0;
  const xh = row === 1 ? 40 : 0;
  const mb = row === 1 ? 0 : 10;
  const w = M + yw + PLOT_W[col] + M;
  const h = M + ROW_H[row] + xh + mb;
  return (
    <div style={{ position: 'absolute', left: PLOT_LEFT[col] - yw - M, top: ROW_TOP[row] - M }}>
      <ComposedChart
        width={w}
        height={h}
        data={data}
        margin={{ top: M, right: M, bottom: mb, left: M }}
        barCategoryGap={0}
        barGap={0}
      >
        {SERIES_ORDER.map(k => (
          <XAxis key={`s${k}`} xAxisId={`s${k}`} dataKey="r" type="number" domain={X_DOMAIN} allowDataOverflow hide height={0} />
        ))}
        <XAxis
          xAxisId="xt" type="number" domain={X_DOMAIN} allowDataOverflow orientation="top" height={0}
          ticks={X_MINOR} interval={0} tickSize={0} tickMargin={0} tickLine={false}
          axisLine={{ stroke: AXIS_COLOR }} tick={tickRenderer('top', X_MAJOR, null)}
        />
        <XAxis
          xAxisId="xb" dataKey="r" type="number" domain={X_DOMAIN} allowDataOverflow orientation="bottom" height={xh}
          ticks={X_MINOR} interval={0} tickSize={0} tickMargin={0} tickLine={false}
          axisLine={{ stroke: AXIS_COLOR }} tick={tickRenderer('bottom', X_MAJOR, row === 1 ? fmtX : null)}
        />
        <YAxis
          yAxisId="yl" type="number" domain={yDomain} allowDataOverflow orientation="left" width={yw}
          ticks={yMinor} interval={0} tickSize={0} tickMargin={0} tickLine={false}
          axisLine={{ stroke: AXIS_COLOR }} tick={tickRenderer('left', yMajor, col === 0 ? fmtY : null)}
        />
        <YAxis
          yAxisId="yr" type="number" domain={yDomain} allowDataOverflow orientation="right" width={0}
          ticks={yMinor} interval={0} tickSize={0} tickMargin={0} tickLine={false}
          axisLine={{ stroke: AXIS_COLOR }} tick={tickRenderer('right', yMajor, null)}
        />
        {SERIES_ORDER.map(k => (
          <Bar
            key={`bar${k}`}
            xAxisId={`s${k}`}
            yAxisId="yl"
            dataKey={`b${k}`}
            isAnimationActive={false}
            shape={boxShape(`b${k}`, AGE_COLORS[k])}
          />
        ))}
        {SERIES_ORDER.map(k => (
          <Line
            key={`line${k}`}
            xAxisId="xb"
            yAxisId="yl"
            dataKey={`m${k}`}
            stroke="#8a8a8a"
            strokeWidth={0.8}
            dot={false}
            activeDot={false}
            connectNulls
            isAnimationActive={false}
          />
        ))}
        <Line
          xAxisId="xb"
          yAxisId="yl"
          dataKey="all"
          stroke="#000"
          strokeWidth={3}
          dot={false}
          activeDot={false}
          isAnimationActive={false}
        />
      </ComposedChart>
    </div>
  );
};

const Overlay: React.FC = () => (
  <svg width={981} height={404} style={{ position: 'absolute', left: 0, top: 0, pointerEvents: 'none' }} fontFamily={FONT}>
    <text transform="translate(15,93) rotate(-90)" textAnchor="middle" fontSize={14} letterSpacing={1.2} fill="#111">[Fe/H]</text>
    <text transform="translate(15,270) rotate(-90)" textAnchor="middle" fontSize={14} letterSpacing={1.2} fill="#111">[Mg/Fe]</text>
    {Z_LABELS.map((t, c) => (
      <text key={t} x={PLOT_LEFT[c] + PLOT_W[c] - 11} y={18} textAnchor="end" fontSize={12.5} fill="#111">{t}</text>
    ))}
    {PLOT_LEFT.map((l, c) => (
      <text key={`xt${c}`} x={l + PLOT_W[c] / 2} y={401} textAnchor="middle" fontSize={14} fill="#111" style={{ whiteSpace: 'pre' }}>r  [kpc]</text>
    ))}
    {AGE_LABELS.map((t, k) => (
      <g key={t}>
        <rect x={163.5} y={292 + k * 11.3} width={20} height={7} fill="none" stroke={AGE_COLORS[k]} strokeWidth={1.2} />
        <text x={187} y={299.5 + k * 11.3} fontSize={10.5} fill="#111">{t}</text>
      </g>
    ))}
  </svg>
);

const App: React.FC = () => (
  <div style={{ position: 'absolute', left: 0, top: 0, width: 981, height: 404, overflow: 'hidden', background: '#fff' }}>
    {[0, 1].map(row => [0, 1, 2, 3, 4].map(col => <Panel key={`${row}-${col}`} row={row} col={col} />))}
    <Overlay />
  </div>
);

export default App;
